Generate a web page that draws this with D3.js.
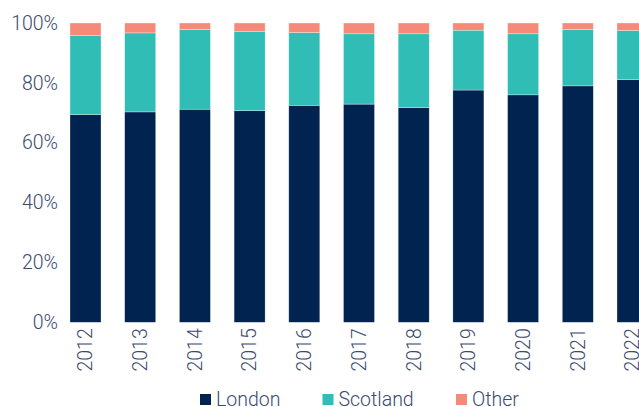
<!DOCTYPE html>
<html>
<head>
<meta charset="utf-8">
<script src="https://cdn.jsdelivr.net/npm/d3@7"></script>
<style>
  body { margin: 0; background: #fff; }
  svg { display: block; font-family: Roboto, 'Noto Sans', sans-serif; font-weight: 300; }
  .tick text, .legend text { fill: #3a4a6e; }
</style>
</head>
<body>
<div id="chart"></div>
<script>
var years = ['2012', '2013', '2014', '2015', '2016', '2017', '2018', '2019', '2020', '2021', '2022'];
var london = [69.4, 70.3, 71.2, 70.7, 72.5, 72.9, 71.7, 77.6, 76.0, 79.0, 81.1];
var scotland = [26.4, 26.4, 26.6, 26.4, 24.3, 23.5, 24.7, 20.0, 20.4, 18.8, 16.4];
var other = [4.2, 3.3, 2.2, 2.9, 3.2, 3.6, 3.6, 2.4, 3.6, 2.2, 2.5];
var seriesNames = ['London', 'Scotland', 'Other'];
var colors = ['#00234f', '#2fbdb5', '#f68a7a'];
var yTicks = [0, 20, 40, 60, 80, 100];

var width = 639,
    height = 407,
    fontSize = '19.5px';

var svg = d3.select('#chart').append('svg')
    .attr('width', width)
    .attr('height', height);

var x = d3.scaleBand()
    .domain(years)
    .range([70, 648])
    .paddingInner(0.433)
    .paddingOuter(0);

var y = d3.scaleLinear()
    .domain([0, 100])
    .range([322.3, 23]);

var rows = years.map(function (yr, i) {
  return { year: yr, London: london[i], Scotland: scotland[i], Other: other[i] };
});

var stacked = d3.stack().keys(seriesNames)(rows);

svg.append('g')
  .selectAll('g')
  .data(stacked)
  .enter()
  .append('g')
  .attr('fill', function (d, i) { return colors[i]; })
  .selectAll('rect')
  .data(function (d) { return d; })
  .enter()
  .append('rect')
  .attr('x', function (d) { return x(d.data.year); })
  .attr('y', function (d) { return y(Math.min(d[1], 100)); })
  .attr('width', x.bandwidth())
  .attr('height', function (d) { return y(d[0]) - y(Math.min(d[1], 100)); })
  .attr('stroke', '#ffffff')
  .attr('stroke-opacity', 0.5)
  .attr('stroke-width', 0.6);

var yAxis = d3.axisLeft(y)
    .tickValues(yTicks)
    .tickFormat(function (d) { return d + '%'; })
    .tickSize(0)
    .tickPadding(0);

var yG = svg.append('g')
    .attr('transform', 'translate(58,0)')
    .call(yAxis);
yG.select('.domain').remove();
yG.selectAll('text')
  .attr('font-size', fontSize)
  .attr('font-family', 'Roboto, sans-serif')
  .attr('font-weight', 300);

var xAxis = d3.axisBottom(x)
    .tickSize(0)
    .tickPadding(0);

var xG = svg.append('g')
    .attr('transform', 'translate(0,' + 322.3 + ')')
    .call(xAxis);
xG.select('.domain').remove();
xG.selectAll('text')
  .attr('font-size', fontSize)
  .attr('font-family', 'Roboto, sans-serif')
  .attr('font-weight', 300)
  .attr('transform', 'rotate(-90)')
  .attr('x', -6)
  .attr('y', 0)
  .attr('dy', '0.35em')
  .style('text-anchor', 'end');

var legendX = [200, 322.5, 456];
var legend = svg.append('g').attr('class', 'legend');
seriesNames.forEach(function (name, i) {
  legend.append('rect')
    .attr('x', legendX[i])
    .attr('y', 394)
    .attr('width', 11)
    .attr('height', 11)
    .attr('fill', colors[i]);
  legend.append('text')
    .attr('x', legendX[i] + 16)
    .attr('y', 405.5)
    .attr('font-size', fontSize)
    .attr('font-weight', 300)
    .text(name);
});
</script>
</body>
</html>
